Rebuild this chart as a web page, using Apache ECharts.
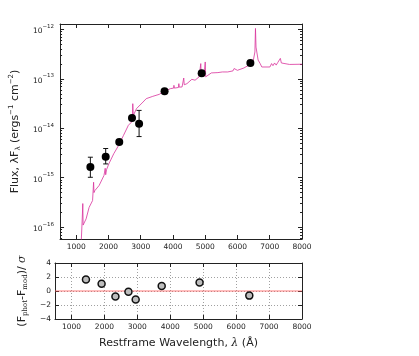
<!DOCTYPE html>
<html>
<head>
<meta charset="utf-8">
<script src="https://cdn.jsdelivr.net/npm/echarts@6/dist/echarts.min.js"></script>
<style>
  html, body { margin: 0; padding: 0; background: #fff; }
  #chart { width: 419px; height: 356px; }
</style>
</head>
<body>
<div id="chart"></div>
<script>
// model spectrum (restframe wavelength, lambda*F_lambda)
const specWave = [1150, 1190, 1205, 1215, 1256, 1308, 1400, 1408, 1416, 1459, 1508, 1530, 1540, 1552, 1580, 1710, 1862, 1880, 1900, 1915, 1940, 2013, 2164, 2315, 2467, 2618, 2718, 2745, 2755, 2768, 2869, 3072, 3172, 3374, 3577, 3677, 3928, 4020, 4030, 4045, 4101, 4170, 4182, 4195, 4282, 4322, 4334, 4350, 4433, 4585, 4685, 4812, 4850, 4862, 4875, 4963, 4990, 5000, 5015, 5039, 5190, 5393, 5530, 5544, 5560, 5695, 5860, 5895, 5940, 5998, 6197, 6349, 6482, 6540, 6558, 6575, 6640, 6703, 6754, 7005, 7057, 7100, 7150, 7200, 7250, 7300, 7329, 7360, 7408, 7611, 8000]
const specFlux = [4e-17, 1.6e-16, 3.0e-16, 1.1e-16, 1.16e-16, 1.47e-16, 2.5e-16, 2.65e-16, 2.4e-16, 2.45e-16, 3.45e-16, 3.6e-16, 8.1e-16, 5.0e-16, 5.5e-16, 6.95e-16, 1.11e-15, 1.3e-15, 1.55e-15, 1.15e-15, 1.45e-15, 1.91e-15, 3.05e-15, 4.5e-15, 7.2e-15, 1.15e-14, 1.34e-14, 1.5e-14, 3.15e-14, 1.8e-14, 2.5e-14, 3.4e-14, 3.98e-14, 4.43e-14, 4.87e-14, 5.42e-14, 6.36e-14, 6.5e-14, 7.4e-14, 6.5e-14, 6.45e-14, 6.7e-14, 8.0e-14, 6.8e-14, 6.86e-14, 7.2e-14, 1.04e-13, 7.6e-14, 8.0e-14, 9.8e-14, 9.4e-14, 1.1e-13, 1.15e-13, 2.04e-13, 1.2e-13, 1.13e-13, 1.12e-13, 2.2e-13, 1.1e-13, 1.18e-13, 1.32e-13, 1.34e-13, 1.38e-13, 1.49e-13, 1.38e-13, 1.38e-13, 1.45e-13, 1.62e-13, 1.5e-13, 1.49e-13, 1.66e-13, 1.89e-13, 2.2e-13, 3.5e-13, 1.05e-12, 4.4e-13, 2.4e-13, 2.04e-13, 1.74e-13, 1.74e-13, 2.04e-13, 1.85e-13, 2.1e-13, 1.9e-13, 2.15e-13, 2.0e-13, 2.6e-13, 2.1e-13, 1.95e-13, 1.96e-13, 1.98e-13]

// photometry
const photWave = [1440, 1915, 2335, 2730, 2950, 3740, 4890, 6400]
const photFlux = [1.65e-15, 2.65e-15, 5.25e-15, 1.62e-14, 1.24e-14, 5.6e-14, 1.3e-13, 2.1e-13]
const photLow = [1.02e-15, 1.9e-15, 4.7e-15, 1.5e-14, 6.8e-15, 5.3e-14, 1.2e-13, 2.0e-13]
const photHigh = [2.6e-15, 3.9e-15, 5.8e-15, 1.75e-14, 2.3e-14, 5.9e-14, 1.4e-13, 2.2e-13]
const residuals = [1.65, 1.03, -0.8, -0.1, -1.23, 0.7, 1.2, -0.66]

// ticks
const xTicks = [1000, 2000, 3000, 4000, 5000, 6000, 7000, 8000]
const fluxTicks = [1e-16, 1e-15, 1e-14, 1e-13, 1e-12]
const residTicks = [-4, -2, 0, 2, 4]

const xMin = 500
const xMax = 8000
const fluxMin = 5.75e-17
const fluxMax = 1.29e-12
const font = 'DejaVu Sans'
const ink = '#222'

// log minor ticks (2..9 x 10^n)
const minorTicks = []
for (let n = -17; n <= -12; n++) {
  for (let k = 2; k <= 9; k++) {
    const v = k * Math.pow(10, n)
    if (v > fluxMin && v < fluxMax) minorTicks.push(v)
  }
}

function expLabel(v) {
  const e = Math.round(Math.log10(v))
  return '{b|10}{s|' + String(e).replace('-', '\u2212') + '}'
}

const frame = { show: true, onZero: false, lineStyle: { color: ink, width: 1 } }

function xAxis(grid, pos, labels, split) {
  return {
    type: 'value', gridIndex: grid, position: pos, min: xMin, max: xMax,
    axisLine: frame,
    axisTick: { inside: true, length: 4, customValues: xTicks, lineStyle: { color: ink } },
    axisLabel: {
      show: labels, customValues: xTicks, margin: 4,
      fontFamily: font, fontSize: 7.5, color: ink,
      formatter: v => String(v)
    },
    splitLine: {
      show: split,
      lineStyle: { color: '#888', type: [1, 2], width: 0.8 }
    }
  }
}

function fluxAxis(pos, ticks, len, labels) {
  return {
    type: 'log', logBase: 10, gridIndex: 0, position: pos,
    min: fluxMin, max: fluxMax,
    axisLine: frame,
    axisTick: { inside: true, length: len, customValues: ticks, lineStyle: { color: ink } },
    axisLabel: {
      show: labels, customValues: fluxTicks, margin: 6,
      formatter: expLabel,
      rich: {
        b: { fontFamily: font, fontSize: 7.5, color: ink, lineHeight: 12, verticalAlign: 'bottom' },
        s: { fontFamily: font, fontSize: 5.5, color: ink, verticalAlign: 'top', lineHeight: 8 }
      }
    },
    splitLine: { show: false }
  }
}

function residAxis(pos, labels) {
  return {
    type: 'value', gridIndex: 1, position: pos, min: -4, max: 4, interval: 2,
    axisLine: frame,
    axisTick: { inside: true, length: 4, lineStyle: { color: ink } },
    axisLabel: {
      show: labels, margin: 4, fontFamily: font, fontSize: 7.5, color: ink,
      formatter: v => String(v).replace('-', '\u2212')
    },
    splitLine: {
      show: labels,
      lineStyle: { color: '#888', type: [1, 2], width: 0.8 }
    }
  }
}

const chart = echarts.init(document.getElementById('chart'))

const topX = xAxis(0, 'bottom', true, false)
const bottomX = xAxis(1, 'bottom', true, true)
bottomX.name = 'Restframe Wavelength, {i|\u03bb} (\u00c5)'
bottomX.nameLocation = 'middle'
bottomX.nameGap = 19
bottomX.nameTextStyle = {
  fontFamily: font, fontSize: 11, color: ink,
  rich: { i: { fontFamily: 'DejaVu Serif', fontStyle: 'italic', fontSize: 11, color: ink } }
}

const leftFlux = fluxAxis('left', fluxTicks, 4, true)
leftFlux.name = 'Flux, \u03bbF{sub|\u03bb} (ergs{sup|\u22121} cm{sup|\u22122})'
leftFlux.nameLocation = 'middle'
leftFlux.nameRotate = 90
leftFlux.nameGap = 31
leftFlux.nameTextStyle = {
  fontFamily: font, fontSize: 11, color: ink,
  rich: {
    sub: { fontFamily: font, fontSize: 7, color: ink, verticalAlign: 'bottom', lineHeight: 14 },
    sup: { fontFamily: font, fontSize: 7, color: ink, verticalAlign: 'top', lineHeight: 14 }
  }
}

const leftResid = residAxis('left', true)
leftResid.name = '(F{sub|phot}-F{sub|mod})/ {i|\u03c3}'
leftResid.nameLocation = 'middle'
leftResid.nameRotate = 90
leftResid.nameGap = 25
leftResid.nameTextStyle = {
  fontFamily: font, fontSize: 11, color: ink,
  rich: {
    sub: { fontFamily: 'DejaVu Serif', fontSize: 7, color: ink, verticalAlign: 'bottom', lineHeight: 14 },
    i: { fontFamily: 'DejaVu Serif', fontStyle: 'italic', fontSize: 11, color: ink }
  }
}

chart.setOption({
  animation: false,
  backgroundColor: '#fff',
  grid: [
    { left: 55, top: 24, width: 247, height: 215 },
    { left: 55, top: 263, width: 247, height: 56 }
  ],
  xAxis: [
    topX,
    xAxis(0, 'top', false, false),
    bottomX,
    xAxis(1, 'top', false, false)
  ],
  yAxis: [
    leftFlux,
    fluxAxis('right', fluxTicks, 4, false),
    leftResid,
    residAxis('right', false),
    Object.assign(fluxAxis('left', minorTicks, 2, false), { axisLine: { show: false } }),
    Object.assign(fluxAxis('right', minorTicks, 2, false), { axisLine: { show: false } })
  ],
  series: [
    {
      name: 'model',
      type: 'line',
      xAxisIndex: 0,
      yAxisIndex: 0,
      showSymbol: false,
      clip: true,
      data: specWave.map((w, i) => [w, specFlux[i]]),
      lineStyle: { color: '#d9329c', width: 0.8 },
      z: 2
    },
    {
      name: 'errors',
      type: 'custom',
      xAxisIndex: 0,
      yAxisIndex: 0,
      data: photWave.map((w, i) => [w, photLow[i], photHigh[i]]),
      renderItem: (params, api) => {
        const lo = api.coord([api.value(0), api.value(1)])
        const hi = api.coord([api.value(0), api.value(2)])
        const cap = 2.5
        const st = { stroke: '#111', lineWidth: 1 }
        return {
          type: 'group',
          children: [
            { type: 'line', shape: { x1: lo[0], y1: lo[1], x2: hi[0], y2: hi[1] }, style: st },
            { type: 'line', shape: { x1: lo[0] - cap, y1: lo[1], x2: lo[0] + cap, y2: lo[1] }, style: st },
            { type: 'line', shape: { x1: hi[0] - cap, y1: hi[1], x2: hi[0] + cap, y2: hi[1] }, style: st }
          ]
        }
      },
      z: 3
    },
    {
      name: 'phot',
      type: 'scatter',
      xAxisIndex: 0,
      yAxisIndex: 0,
      symbolSize: 8,
      data: photWave.map((w, i) => [w, photFlux[i]]),
      itemStyle: { color: '#000', opacity: 1 },
      z: 4
    },
    {
      // zero reference line for residuals
      name: 'zero',
      type: 'line',
      xAxisIndex: 2,
      yAxisIndex: 2,
      showSymbol: false,
      silent: true,
      data: [[xMin, 0], [xMax, 0]],
      lineStyle: { color: '#ff5a5a', width: 1, opacity: 0.8 },
      z: 3
    },
    {
      name: 'resid',
      type: 'scatter',
      xAxisIndex: 2,
      yAxisIndex: 2,
      symbolSize: 7,
      data: photWave.map((w, i) => [w, residuals[i]]),
      itemStyle: { color: '#bdbdbd', borderColor: '#111', borderWidth: 1.5, opacity: 1 },
      z: 4
    }
  ]
})
</script>
</body>
</html>
